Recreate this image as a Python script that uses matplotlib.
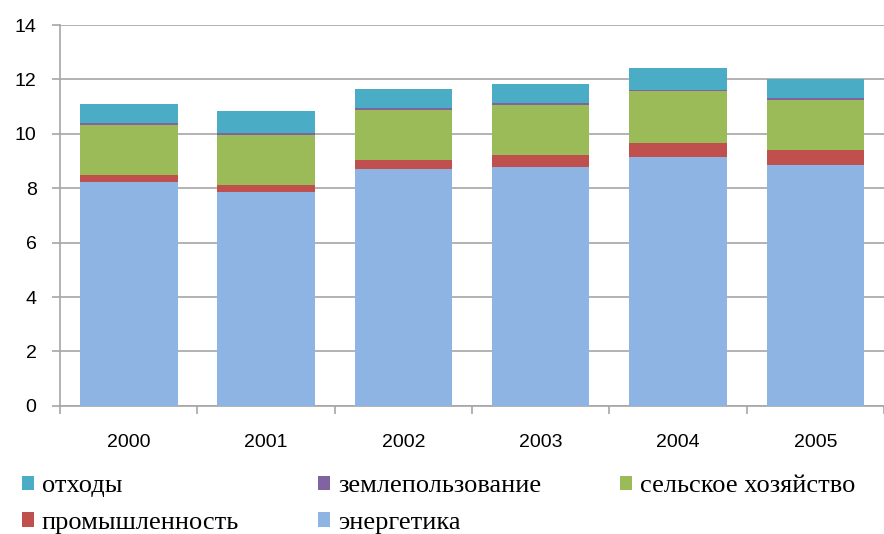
import matplotlib
matplotlib.use('Agg')
import numpy as np
import matplotlib.pyplot as plt

years = ["2000", "2001", "2002", "2003", "2004", "2005"]
energy = [8.22, 7.85, 8.72, 8.79, 9.15, 8.85]
industry = [0.26, 0.26, 0.32, 0.43, 0.51, 0.56]
agriculture = [1.85, 1.85, 1.84, 1.85, 1.90, 1.84]
landuse = [0.07, 0.07, 0.07, 0.07, 0.07, 0.07]
waste = [0.69, 0.80, 0.69, 0.68, 0.80, 0.71]

names = ["энергетика", "промышленность", "сельское хозяйство", "землепользование", "отходы"]
colors = ["#8EB4E3", "#C0504D", "#9BBB59", "#8064A2", "#4BACC6"]
series = [energy, industry, agriculture, landuse, waste]

fig = plt.figure(figsize=(8.84, 5.34), dpi=100)
ax = fig.add_axes([0.068, 0.24, 0.932, 0.713])

x = np.arange(len(years))
bottom = np.zeros(len(years))
bars = []
for vals, name, c in zip(series, names, colors):
    b = ax.bar(x, vals, 0.71, bottom=bottom, color=c, label=name,
               linewidth=0, zorder=3)
    bars.append(b)
    bottom += np.array(vals)

ax.set_xlim(-0.5, len(years) - 0.5)
ax.set_ylim(0, 14)
ax.set_yticks(range(0, 15, 2))
ax.yaxis.grid(True, color="#A6A6A6", linewidth=1.2, zorder=0)
ax.set_axisbelow(True)

for s in ["top", "right"]:
    ax.spines[s].set_visible(False)
ax.spines["left"].set_color("#A6A6A6")
ax.spines["bottom"].set_color("#A6A6A6")
ax.spines["left"].set_linewidth(1.2)
ax.spines["bottom"].set_linewidth(1.2)

ax.set_xticks(x)
ax.set_xticklabels(years)
ax.set_xticks(np.arange(-0.5, len(years), 1.0), minor=True)
ax.tick_params(axis="x", which="major", length=0, pad=20)
ax.tick_params(axis="x", which="minor", length=6, color="#A6A6A6", width=1.2)
ax.tick_params(axis="y", length=6, color="#A6A6A6", width=1.2, pad=11)
for lab in ax.get_xticklabels() + ax.get_yticklabels():
    lab.set_fontfamily("Liberation Sans")
    lab.set_fontsize(14)

# legend order: row-major 3 columns
order = [4, 1, 3, 0, 2]
fig.legend([bars[i] for i in order], [names[i] for i in order],
           loc="center left", bbox_to_anchor=(0.025, 0.055), ncol=3,
           frameon=False, borderpad=0, borderaxespad=0,
           handlelength=0.45, handleheight=0.45,
           handletextpad=0.3, columnspacing=3.0, labelspacing=0.55,
           prop={"family": "Liberation Serif", "size": 19})

fig.savefig("out.png", dpi=100)
